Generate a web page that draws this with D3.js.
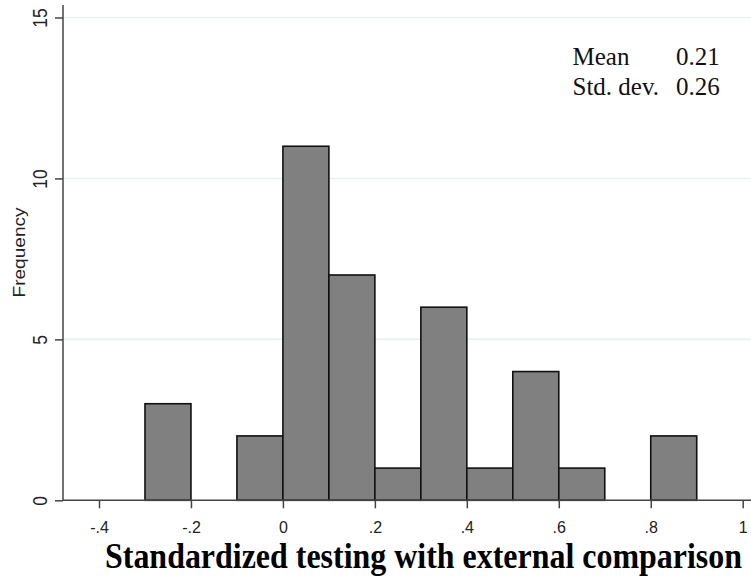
<!DOCTYPE html>
<html>
<head>
<meta charset="utf-8">
<script src="https://cdn.jsdelivr.net/npm/d3@7"></script>
<style>
  html, body { margin: 0; padding: 0; background: #fff; }
  svg { display: block; }
</style>
</head>
<body>
<svg id="chart" width="751" height="578"></svg>
<script>
// Histogram bins (left edge of each 0.1-wide bin) and their frequencies
const binStarts = [-0.3, -0.2, -0.1, 0.0, 0.1, 0.2, 0.3, 0.4, 0.5, 0.6, 0.7, 0.8];
const binCounts = [3, 0, 2, 11, 7, 1, 6, 1, 4, 1, 0, 2];
const binWidth = 0.1;

const xTicks = [-0.4, -0.2, 0, 0.2, 0.4, 0.6, 0.8, 1];
const xTickLabels = ["-.4", "-.2", "0", ".2", ".4", ".6", ".8", "1"];
const yTicks = [0, 5, 10, 15];
const yGrid = [5, 10, 15];

const statLabels = ["Mean", "Std. dev."];
const statValues = ["0.21", "0.26"];

const xTitle = "Standardized testing with external comparison";
const yTitle = "Frequency";

const svg = d3.select("#chart");

const plotLeft = 63, plotRight = 751, plotTop = 5, plotBottom = 500.3;

const x = d3.scaleLinear().domain([-0.4, 1]).range([99, 742.7]);
const y = d3.scaleLinear().domain([0, 15]).range([500.3, 17.5]);

const sans = "Arial, 'Liberation Sans', sans-serif";
const serif = "'Liberation Serif', 'Times New Roman', serif";

// Gridlines
svg.append("g")
  .selectAll("line")
  .data(yGrid)
  .join("line")
  .attr("x1", plotLeft)
  .attr("x2", plotRight)
  .attr("y1", d => y(d))
  .attr("y2", d => y(d))
  .attr("stroke", "#e8f0f2")
  .attr("stroke-width", 1.5);

// Bars
const bins = binStarts.map((s, i) => ({ x0: s, x1: s + binWidth, n: binCounts[i] }))
  .filter(d => d.n > 0);

svg.append("g")
  .selectAll("rect")
  .data(bins)
  .join("rect")
  .attr("x", d => x(d.x0))
  .attr("width", d => x(d.x1) - x(d.x0))
  .attr("y", d => y(d.n))
  .attr("height", d => y(0) - y(d.n))
  .attr("fill", "#808080")
  .attr("stroke", "#111")
  .attr("stroke-width", 1.6);

// Axis lines
svg.append("line")
  .attr("x1", plotLeft).attr("x2", plotLeft)
  .attr("y1", plotTop).attr("y2", plotBottom)
  .attr("stroke", "#444").attr("stroke-width", 1.5);
svg.append("line")
  .attr("x1", plotLeft).attr("x2", plotRight)
  .attr("y1", plotBottom).attr("y2", plotBottom)
  .attr("stroke", "#444").attr("stroke-width", 1.5);

// X axis
const xAxis = d3.axisBottom(x)
  .tickValues(xTicks)
  .tickSize(8)
  .tickFormat((d, i) => xTickLabels[i]);

const gx = svg.append("g")
  .attr("transform", `translate(0,${plotBottom})`)
  .call(xAxis);
gx.select(".domain").remove();
gx.selectAll(".tick line").attr("stroke", "#444").attr("stroke-width", 1.5);
gx.selectAll(".tick text")
  .attr("fill", "#222")
  .attr("y", 32.7)
  .attr("dy", null)
  .style("font-family", sans)
  .style("font-size", "16px");

// Y axis with rotated labels
const yAxis = d3.axisLeft(y)
  .tickValues(yTicks)
  .tickSize(8)
  .tickFormat(d3.format("d"));

const gy = svg.append("g")
  .attr("transform", `translate(${plotLeft},0)`)
  .call(yAxis);
gy.select(".domain").remove();
gy.selectAll(".tick line").attr("stroke", "#444").attr("stroke-width", 1.5);
gy.selectAll(".tick text")
  .attr("fill", "#222")
  .attr("x", null).attr("dy", null)
  .attr("text-anchor", "middle")
  .attr("transform", "translate(-16,0) rotate(-90) scale(1,1.2)")
  .style("font-family", sans)
  .style("font-size", "17.5px");

// Y title
svg.append("text")
  .attr("transform", `translate(25,${y(7.7)}) rotate(-90)`)
  .attr("text-anchor", "middle")
  .attr("fill", "#222")
  .attr("textLength", 90)
  .attr("lengthAdjust", "spacingAndGlyphs")
  .style("font-family", sans)
  .style("font-size", "16.5px")
  .text(yTitle);

// Summary statistics
const stats = svg.append("g")
  .style("font-family", serif)
  .style("font-size", "25px")
  .attr("fill", "#111");
statLabels.forEach((lab, i) => {
  stats.append("text").attr("x", 572.5).attr("y", 65 + i * 29.5).text(lab);
  stats.append("text").attr("x", 676).attr("y", 65 + i * 29.5).text(statValues[i]);
});

// X title, sized to span the plot width
const xt = svg.append("text")
  .attr("transform", "translate(105,568) scale(1,1.12)")
  .attr("fill", "#000")
  .style("font-family", serif)
  .style("font-weight", "bold")
  .style("font-size", "28px")
  .text(xTitle);
const len = xt.node().getComputedTextLength();
xt.style("font-size", (28 * 637 / len).toFixed(2) + "px");
</script>
</body>
</html>
